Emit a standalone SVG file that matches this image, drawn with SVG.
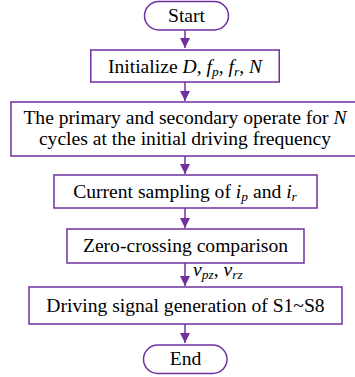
<svg xmlns="http://www.w3.org/2000/svg" width="355" height="377" viewBox="0 0 355 377">
  <defs>
    <marker id="arrow" viewBox="0 0 10 10" refX="10" refY="5" markerWidth="10" markerHeight="10" markerUnits="userSpaceOnUse" orient="auto">
      <path d="M0,0 L10,5 L0,10 Z" fill="#7030A0"/>
    </marker>
  </defs>
  <style>
    .box { fill: #ffffff; stroke: #7030A0; stroke-width: 1.5; }
    .link { fill: none; stroke: #7030A0; stroke-width: 1.5; marker-end: url(#arrow); }
    .t { font-family: "Liberation Serif", "Times New Roman", serif; font-size: 19.6px; fill: #000000; text-anchor: middle; }
    .i { font-style: italic; }
    .sub { font-size: 13.5px; font-style: italic; }
  </style>
  <rect width="355" height="377" fill="#ffffff"/>

  <g id="connectors">
    <line class="link" x1="185" y1="30" x2="185" y2="48"/>
    <line class="link" x1="185" y1="82" x2="185" y2="101"/>
    <line class="link" x1="185" y1="156" x2="185" y2="174"/>
    <line class="link" x1="185" y1="208" x2="185" y2="228"/>
    <line class="link" x1="185" y1="263" x2="185" y2="286"/>
    <line class="link" x1="185" y1="324" x2="185" y2="343"/>
    <text class="t" x="193" y="276" style="text-anchor:start"><tspan class="i">v</tspan><tspan class="sub" dy="3">pz</tspan><tspan dy="-3">, </tspan><tspan class="i">v</tspan><tspan class="sub" dy="3">rz</tspan></text>
  </g>

  <g id="start">
    <rect class="box" x="144.5" y="1.5" width="84" height="28.5" rx="14.25"/>
    <text class="t" x="186.5" y="22">Start</text>
  </g>

  <g id="initialize">
    <rect class="box" x="90.75" y="50" width="188.5" height="32"/>
    <text class="t" x="185" y="73">Initialize <tspan class="i">D</tspan>, <tspan class="i">f</tspan><tspan class="sub" dy="3">p</tspan><tspan dy="-3">, </tspan><tspan class="i">f</tspan><tspan class="sub" dy="3">r</tspan><tspan dy="-3">, </tspan><tspan class="i">N</tspan></text>
  </g>

  <g id="operate">
    <rect class="box" x="11" y="102" width="350" height="54"/>
    <text class="t" x="185" y="124">The primary and secondary operate for <tspan class="i">N</tspan></text>
    <text class="t" x="185" y="144.5">cycles at the initial driving frequency</text>
  </g>

  <g id="sampling">
    <rect class="box" x="54" y="175" width="263" height="33"/>
    <text class="t" x="185" y="197.5">Current sampling of <tspan class="i">i</tspan><tspan class="sub" dy="3">p</tspan><tspan dy="-3"> and </tspan><tspan class="i">i</tspan><tspan class="sub" dy="3">r</tspan></text>
  </g>

  <g id="comparison">
    <rect class="box" x="67" y="229" width="237" height="34"/>
    <text class="t" x="185.5" y="251.5">Zero-crossing comparison</text>
  </g>

  <g id="generation">
    <rect class="box" x="29" y="287" width="313" height="37"/>
    <text class="t" x="185.5" y="311.5">Driving signal generation of S1~S8</text>
  </g>

  <g id="end">
    <rect class="box" x="143.5" y="345" width="83.5" height="28.5" rx="14.25"/>
    <text class="t" x="185.5" y="365">End</text>
  </g>
</svg>
